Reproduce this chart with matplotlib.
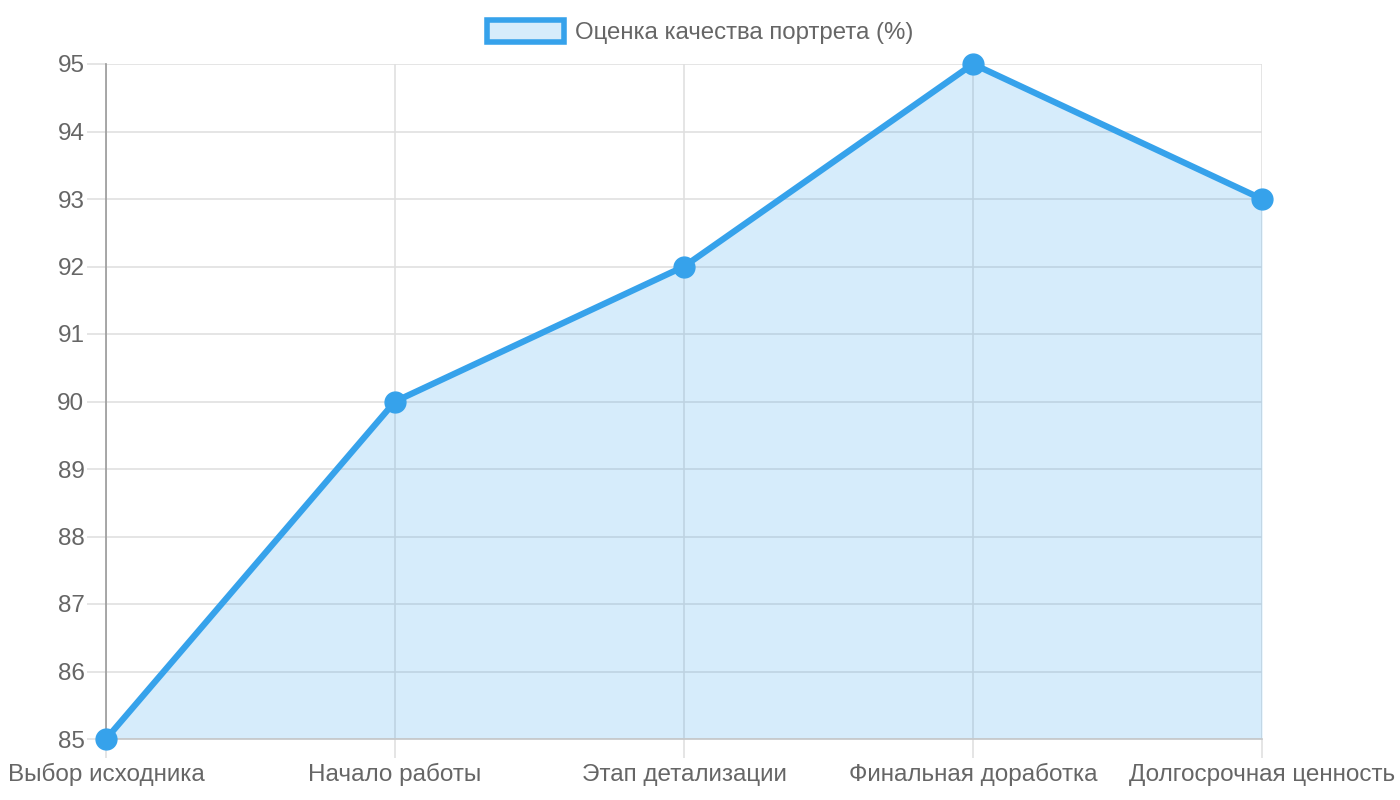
import matplotlib.pyplot as plt
from matplotlib.patches import Patch

categories = ['Выбор исходника', 'Начало работы', 'Этап детализации',
              'Финальная доработка', 'Долгосрочная ценность']
scores = [85, 90, 92, 95, 93]
y_ticks = [85, 86, 87, 88, 89, 90, 91, 92, 93, 94, 95]
series_label = 'Оценка качества портрета (%)'

line_color = '#36A2EB'
fill_color = (54 / 255, 162 / 255, 235 / 255, 0.2)
text_color = '#666666'
grid_color = '#e0e0e0'


def main():
    plt.rcParams['font.family'] = ['Liberation Sans', 'DejaVu Sans']
    fig = plt.figure(figsize=(14, 8), dpi=100)
    ax = fig.add_axes([106 / 1400, 1 - 739 / 800, (1262 - 106) / 1400, (739 - 64) / 800])

    x = list(range(len(categories)))
    ax.fill_between(x, scores, 85, color=fill_color, linewidth=0, zorder=2)
    ax.plot(x, scores, color=line_color, linewidth=4.5, marker='o',
            markersize=15, markerfacecolor=line_color, markeredgecolor=line_color,
            zorder=4, clip_on=False)

    ax.set_xlim(0, len(categories) - 1)
    ax.set_ylim(85, 95)
    ax.set_xticks(x)
    ax.set_xticklabels(categories, va='baseline')
    ax.set_yticks(y_ticks)
    ax.grid(True, color=grid_color, linewidth=1.2, zorder=1)
    ax.tick_params(axis='both', colors=grid_color, labelcolor=text_color,
                   labelsize=17.5, length=14, width=1.2)
    ax.tick_params(axis='x', pad=16)
    ax.tick_params(axis='y', pad=1.5)

    for side in ['top', 'right']:
        ax.spines[side].set_visible(False)
    ax.spines['left'].set_color('#9a9a9a')
    ax.spines['left'].set_linewidth(1.2)
    ax.spines['bottom'].set_color('#c8c8c8')
    ax.spines['bottom'].set_linewidth(1.2)
    ax.spines['left'].set_zorder(3)

    handle = Patch(facecolor=fill_color, edgecolor=line_color, linewidth=4)
    fig.legend([handle], [series_label], loc='center', bbox_to_anchor=(0.5, 1 - 32 / 800),
               frameon=False, fontsize=17.3, labelcolor=text_color,
               handlelength=3.2, handleheight=1.05, handletextpad=0.45)

    fig.savefig('out.png', dpi=100)


if __name__ == '__main__':
    main()
